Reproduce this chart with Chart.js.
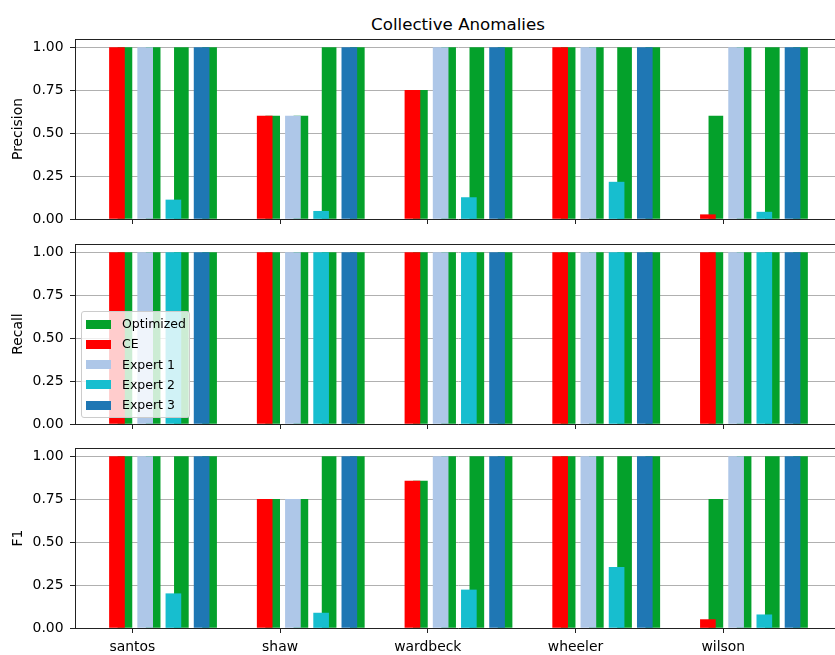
<!DOCTYPE html>
<html>
<head>
<meta charset="utf-8">
<script src="https://cdn.jsdelivr.net/npm/chart.js@4.4.0/dist/chart.umd.min.js"></script>
<style>
  html, body { margin: 0; padding: 0; background: #fff; }
  body { width: 835px; height: 655px; overflow: hidden; position: relative; font-family: "DejaVu Sans", sans-serif; }
  canvas { position: absolute; left: 0; }
  #title { position: absolute; top: 17px; left: 458px; transform: translateX(-50%);
           font-size: 16.67px; line-height: 1; white-space: nowrap; color: #000; }
  #legend { position: absolute; left: 81px; top: 311px; width: 109px; height: 107px; box-sizing: border-box;
            border: 1px solid #cccccc; border-radius: 3px; background: rgba(255,255,255,0.8); }
  #legend .row { position: absolute; left: 0; height: 20px; display: flex; align-items: center;
                 font-size: 12.5px; color: #000; white-space: nowrap; }
  #legend .sw { position: absolute; left: 4px; width: 25px; height: 9px; }
  #legend .tx { position: absolute; left: 40px; line-height: 20px; }
</style>
</head>
<body>
<div id="title">Collective Anomalies</div>
<canvas id="cPrecision" width="850" height="240" style="top:0px"></canvas>
<canvas id="cRecall" width="850" height="220" style="top:224px"></canvas>
<canvas id="cF1" width="850" height="227" style="top:428px"></canvas>
<div id="legend"></div>
<script>
// ---- data -------------------------------------------------------------
const categories = ['santos', 'shaw', 'wardbeck', 'wheeler', 'wilson'];
const comparators = ['CE', 'Expert 1', 'Expert 2', 'Expert 3'];
const yTicks = [0, 0.25, 0.5, 0.75, 1.0];

// Precision of each baseline, per site
const precisionCE      = [1.00, 0.60, 0.75, 1.00, 0.025];
const precisionExpert1 = [1.00, 0.60, 1.00, 1.00, 1.00];
const precisionExpert2 = [0.111, 0.045, 0.125, 0.215, 0.04];
const precisionExpert3 = [1.00, 1.00, 1.00, 1.00, 1.00];
// Precision of the optimized detector, paired with each baseline
const precisionOptVsCE      = [1.00, 0.60, 0.75, 1.00, 0.60];
const precisionOptVsExpert1 = [1.00, 0.60, 1.00, 1.00, 1.00];
const precisionOptVsExpert2 = [1.00, 1.00, 1.00, 1.00, 1.00];
const precisionOptVsExpert3 = [1.00, 1.00, 1.00, 1.00, 1.00];

// Recall
const recallCE      = [1.00, 1.00, 1.00, 1.00, 1.00];
const recallExpert1 = [1.00, 1.00, 1.00, 1.00, 1.00];
const recallExpert2 = [1.00, 1.00, 1.00, 1.00, 1.00];
const recallExpert3 = [1.00, 1.00, 1.00, 1.00, 1.00];
const recallOptVsCE      = [1.00, 1.00, 1.00, 1.00, 1.00];
const recallOptVsExpert1 = [1.00, 1.00, 1.00, 1.00, 1.00];
const recallOptVsExpert2 = [1.00, 1.00, 1.00, 1.00, 1.00];
const recallOptVsExpert3 = [1.00, 1.00, 1.00, 1.00, 1.00];

// F1
const f1CE      = [1.00, 0.75, 0.857, 1.00, 0.049];
const f1Expert1 = [1.00, 0.75, 1.00, 1.00, 1.00];
const f1Expert2 = [0.20, 0.087, 0.222, 0.354, 0.077];
const f1Expert3 = [1.00, 1.00, 1.00, 1.00, 1.00];
const f1OptVsCE      = [1.00, 0.75, 0.857, 1.00, 0.75];
const f1OptVsExpert1 = [1.00, 0.75, 1.00, 1.00, 1.00];
const f1OptVsExpert2 = [1.00, 1.00, 1.00, 1.00, 1.00];
const f1OptVsExpert3 = [1.00, 1.00, 1.00, 1.00, 1.00];

// ---- styling ----------------------------------------------------------
const optColor = '#04a12b';
const cmpColors = ['#ff0000', '#aec7e8', '#17becf', '#1f77b4'];
const CMP_OFFSET = [-0.104, 0.087, 0.278, 0.469]; // position of each pair inside a site group
const OPT_SHIFT = 0.054;                            // optimized bar sits just right of its baseline
const X_MIN = -0.388, X_MAX = 4.797;
const FONT = { family: 'DejaVu Sans', size: 13.9 };
const INK = '#222';

const topSpine = {
  id: 'topSpine',
  afterDraw(chart) {
    const { ctx, chartArea: a } = chart;
    ctx.save();
    ctx.strokeStyle = INK;
    ctx.lineWidth = 1;
    ctx.beginPath();
    ctx.moveTo(a.left, Math.round(a.top) + 0.5);
    ctx.lineTo(a.right, Math.round(a.top) + 0.5);
    ctx.stroke();
    ctx.restore();
  }
};

function buildPanel(canvasId, yLabel, cmpSeries, optSeries, padTop, xAxisHeight, showLabels) {
  const datasets = [];
  cmpSeries.forEach((vals, k) => datasets.push({
    label: comparators[k],
    data: categories.map((c, i) => ({ x: i + CMP_OFFSET[k], y: vals[i] })),
    backgroundColor: cmpColors[k],
    borderWidth: 0,
    barThickness: 15,
    stack: 'pairs'
  }));
  optSeries.forEach((vals, k) => datasets.push({
    label: 'Optimized',
    data: categories.map((c, i) => ({ x: i + CMP_OFFSET[k] + OPT_SHIFT, y: vals[i] })),
    backgroundColor: optColor,
    borderWidth: 0,
    barThickness: 14,
    stack: 'pairs'
  }));

  return new Chart(document.getElementById(canvasId), {
    type: 'bar',
    data: { datasets },
    plugins: [topSpine],
    options: {
      responsive: false,
      animation: false,
      events: [],
      layout: { padding: { top: padTop, left: 6, right: 9, bottom: 0 } },
      plugins: { legend: { display: false }, tooltip: { enabled: false }, title: { display: false } },
      scales: {
        x: {
          type: 'linear', min: X_MIN, max: X_MAX, offset: false, z: 1,
          afterBuildTicks: ax => { ax.ticks = categories.map((c, i) => ({ value: i })); },
          afterFit: s => { s.height = xAxisHeight; },
          ticks: {
            display: showLabels, autoSkip: false, maxRotation: 0, padding: 6,
            color: '#000', font: FONT,
            callback: v => categories[Math.round(v)]
          },
          grid: { drawOnChartArea: false, drawTicks: true, tickLength: 5, tickColor: INK, tickWidth: 1, offset: false },
          border: { display: true, color: INK, width: 1 }
        },
        y: {
          min: 0, max: 1.05, stacked: false, z: 1,
          afterBuildTicks: ax => { ax.ticks = yTicks.map(v => ({ value: v })); },
          afterFit: s => { s.width = 69; },
          ticks: { padding: 6.5, color: '#000', font: FONT, callback: v => v.toFixed(2) },
          grid: { color: '#b0b0b0', lineWidth: 1, drawTicks: true, tickLength: 5, tickColor: INK, tickWidth: 1 },
          border: { display: true, color: INK, width: 1 },
          title: { display: true, text: yLabel, color: '#000', font: FONT, padding: { top: 4, bottom: 4 } }
        }
      }
    }
  });
}

buildPanel('cPrecision', 'Precision',
  [precisionCE, precisionExpert1, precisionExpert2, precisionExpert3],
  [precisionOptVsCE, precisionOptVsExpert1, precisionOptVsExpert2, precisionOptVsExpert3],
  39, 21, false);
buildPanel('cRecall', 'Recall',
  [recallCE, recallExpert1, recallExpert2, recallExpert3],
  [recallOptVsCE, recallOptVsExpert1, recallOptVsExpert2, recallOptVsExpert3],
  20, 20, false);
buildPanel('cF1', 'F1',
  [f1CE, f1Expert1, f1Expert2, f1Expert3],
  [f1OptVsCE, f1OptVsExpert1, f1OptVsExpert2, f1OptVsExpert3],
  20, 27, true);

// legend laid over the recall panel
const legendItems = [['Optimized', optColor]].concat(comparators.map((n, k) => [n, cmpColors[k]]));
const legendBox = document.getElementById('legend');
legendItems.forEach(([name, color], i) => {
  const row = document.createElement('div');
  row.className = 'row';
  row.style.top = (2 + i * 20.25) + 'px';
  row.style.width = '100%';
  const sw = document.createElement('span');
  sw.className = 'sw';
  sw.style.background = color;
  const tx = document.createElement('span');
  tx.className = 'tx';
  tx.textContent = name;
  row.appendChild(sw);
  row.appendChild(tx);
  legendBox.appendChild(row);
});
</script>
</body>
</html>
